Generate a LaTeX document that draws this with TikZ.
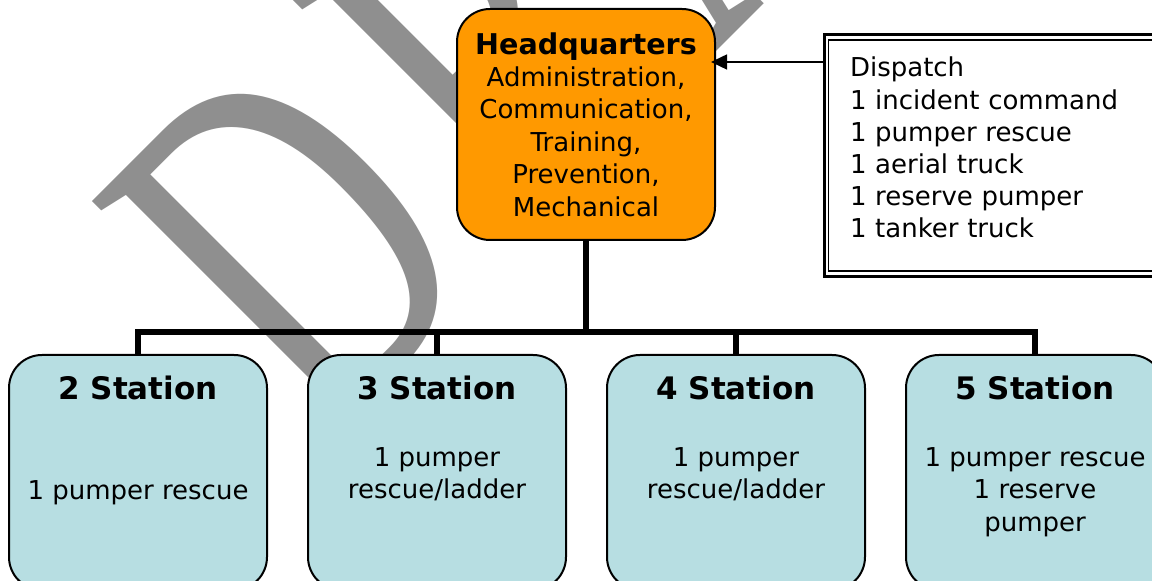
\documentclass[tikz,border=0pt]{standalone}
\usepackage{fontspec}
\setmainfont{DejaVu Sans}
\newfontfamily\wmserif{Liberation Serif}
\usepackage{graphicx}
\usetikzlibrary{arrows.meta,calc}

\definecolor{hqorange}{RGB}{255,153,0}
\definecolor{stationblue}{RGB}{183,222,226}

\begin{document}
\begin{tikzpicture}[
  x=0.5pt, y=-0.5pt,
  watermark/.style={anchor=base west,inner sep=0pt,rotate=45,text=black!44,
    font=\wmserif\fontsize{256}{256}\selectfont},
  hqbox/.style={draw,line width=1pt,fill=hqorange,rounded corners=16.5pt,
    minimum width=129pt,minimum height=115.5pt,align=center,inner sep=0pt,
    font=\fontsize{13}{16.2}\selectfont},
  stationbox/.style={draw,line width=1pt,fill=stationblue,rounded corners=16.5pt,
    minimum width=129pt,minimum height=117.5pt,inner sep=0pt},
  stationhead/.style={anchor=base,inner sep=0pt,
    font=\bfseries\fontsize{15.5}{18}\selectfont},
  stationbody/.style={anchor=north,inner sep=0pt,align=center,
    font=\fontsize{13}{16.2}\selectfont},
  listbox/.style={draw,line width=1.5pt,fill=white,anchor=north west,outer sep=0pt,
    align=left,text width=149.5pt,inner xsep=13pt,inner ysep=11.25pt,
    text depth=88.75pt,font=\fontsize{13}{16.1}\selectfont},
  tree/.style={line width=2.75pt},
  feed/.style={line width=0.75pt,-{Triangle[length=8pt,width=7.5pt]},shorten >=-2.5pt}
]
  \useasboundingbox (0,0) rectangle (1152,581);
  \clip (0,0) rectangle (1152,581);

  % faint DRAFT mark, runs corner to corner behind the chart
  \node[watermark] (draft) at (322.7,445.3)
    {\scalebox{0.66}[1]{D\kern30pt R\kern30pt A\kern30pt F\kern30pt T}};

  % head office
  \node[hqbox] (hq) at (586,124.5)
    {{\bfseries\fontsize{14.3}{16.2}\selectfont Headquarters}\\
     Administration,\\Communication,\\Training,\\Prevention,\\Mechanical};

  % dispatch list, double frame
  \node[listbox] (dispatch) at (824,34.7)
    {Dispatch\\1 incident command\\1 pumper rescue\\1 aerial truck\\
     1 reserve pumper\\1 tanker truck};
  \draw[line width=0.85pt] ($(dispatch.north west)+(4.5,5)$)
    rectangle ($(dispatch.south east)+(-4.5,-5.6)$);

  % stations, one step of 299px apart
  \node[stationbox] (s2) at (138,472.5) {};
  \node[stationbox] (s3) at (437,472.5) {};
  \node[stationbox] (s4) at (736,472.5) {};
  \node[stationbox] (s5) at (1035,472.5) {};

  \node[stationhead] (s2head) at ($(s2.north)+(0,46)$) {2 Station};
  \node[stationhead] (s3head) at ($(s3.north)+(0,46)$) {3 Station};
  \node[stationhead] (s4head) at ($(s4.north)+(0,46)$) {4 Station};
  \node[stationhead] (s5head) at ($(s5.north)+(0,46)$) {5 Station};

  \node[stationbody] (s2body) at ($(s2.north)+(0,126)$) {1 pumper rescue};
  \node[stationbody] (s3body) at ($(s3.north)+(0,93)$) {1 pumper\\rescue/ladder};
  \node[stationbody] (s4body) at ($(s4.north)+(0,93)$) {1 pumper\\rescue/ladder};
  \node[stationbody] (s5body) at ($(s5.north)+(0,93)$)
    {1 pumper rescue\\1 reserve\\pumper};

  % tree: trunk, bus and drops
  \coordinate (bus) at (586,332);
  \draw[tree] (hq.south) -- (hq.south |- bus);
  \draw[tree] (s2.north) |- (bus) -| (s5.north);
  \draw[tree] (s3.north) -- (s3.north |- bus);
  \draw[tree] (s4.north) -- (s4.north |- bus);

  % dispatch reports to headquarters
  \coordinate (tap) at ($(dispatch.north west)+(0,27.3)$);
  \draw[feed] (tap) -- (tap -| hq.east);
\end{tikzpicture}
\end{document}
